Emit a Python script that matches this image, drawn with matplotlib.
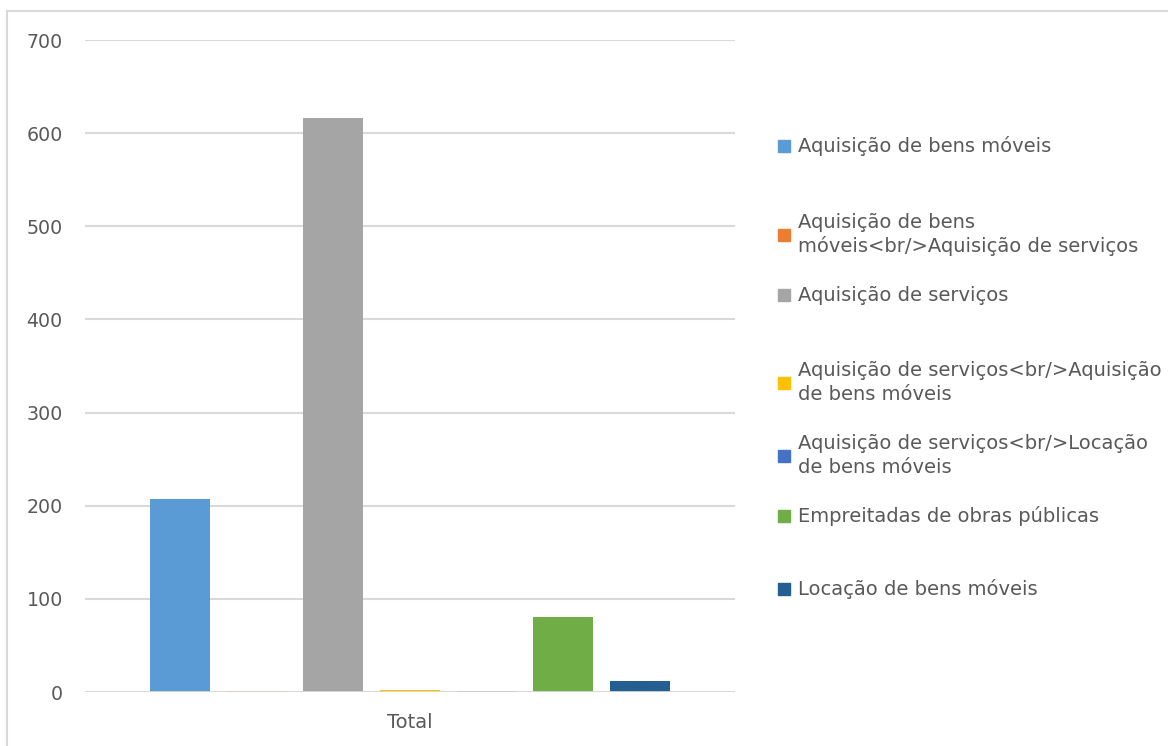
import matplotlib.pyplot as plt
from matplotlib.patches import Rectangle

# dados
series = [
    "Aquisição de bens móveis",
    "Aquisição de bens\nmóveis<br/>Aquisição de serviços",
    "Aquisição de serviços",
    "Aquisição de serviços<br/>Aquisição\nde bens móveis",
    "Aquisição de serviços<br/>Locação\nde bens móveis",
    "Empreitadas de obras públicas",
    "Locação de bens móveis",
]
valores = [207, 1, 616, 2, 1, 80, 12]
categoria = "Total"
cores = ["#5B9BD5", "#ED7D31", "#A5A5A5", "#FFC000", "#4472C4", "#70AD47", "#255E91"]

texto = "#595959"
grade = "#D9D9D9"

fig = plt.figure(figsize=(11.68, 7.46), dpi=100)
W, H = 1168, 746

# borda do grafico (cortada a direita e em baixo)
fig.patches.append(Rectangle((7 / W, -0.1), 1.2, (H - 11) / H + 0.1, transform=fig.transFigure,
                             fill=False, edgecolor=grade, linewidth=1.5))

ax = fig.add_axes([85 / W, (H - 692) / H, 650 / W, 652 / H])

n = len(valores)
for i in range(n):
    ax.bar(i - 3, valores[i], width=0.78, color=cores[i], zorder=2)

ax.set_xlim(-4.24, 4.24)
ax.set_ylim(0, 700)
ax.set_yticks(range(0, 701, 100))
ax.yaxis.grid(True, color=grade, linewidth=1.5, zorder=0)
ax.axhline(0, color=grade, linewidth=2, zorder=3)
ax.set_xticks([0])
ax.set_xticklabels([categoria])
ax.tick_params(length=0, labelsize=14, labelcolor=texto, pad=15)
ax.tick_params(axis="y", labelsize=13.7, pad=16)
for s in ax.spines.values():
    s.set_visible(False)

# legenda
leg_y = [146, 234.5, 295, 382.5, 455.5, 516, 589]
for i in range(n):
    y = leg_y[i]
    fig.patches.append(Rectangle((778 / W, (H - y - 6) / H), 12 / W, 12 / H,
                                 transform=fig.transFigure, color=cores[i]))
    fig.text(798 / W, (H - y) / H, series[i], ha="left", va="center", fontsize=14,
             color=texto, linespacing=1.3)

fig.savefig("out.png", dpi=100)
